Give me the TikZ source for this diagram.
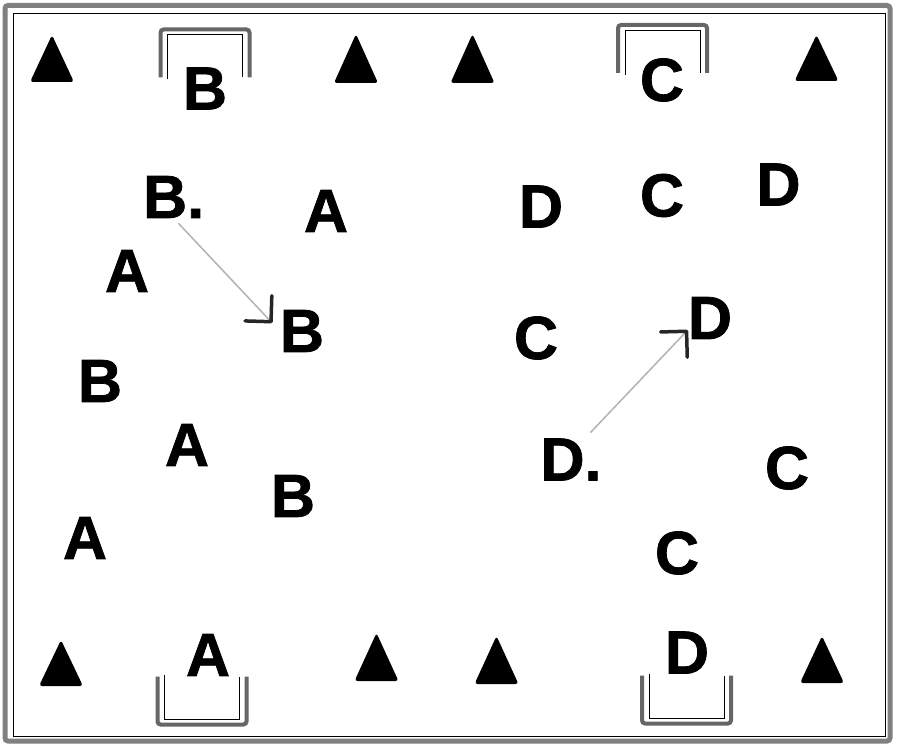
\documentclass[tikz,border=0pt]{standalone}
\usepackage{fontspec}
\setmainfont{Liberation Sans}
\newfontfamily\playerfont{Liberation Sans Bold}[FakeBold=1.2]
\usetikzlibrary{arrows.meta}

\begin{document}
\begin{tikzpicture}[x=1pt,y=-1pt,
  player/.style={font=\fontsize{61}{61}\selectfont\playerfont,inner sep=0pt},
  cone/.style={fill=black,rounded corners=3pt},
  goalline/.style={draw=black!60,line width=4pt,rounded corners=3pt},
  passline/.style={draw=black!30,line width=1.5pt,
    -{Straight Barb[angle=90:26pt,line width=3.5pt,black!85,round]}}]

\useasboundingbox (0,0) rectangle (900,752);

\draw[black!50,line width=5pt,rounded corners=3pt] (5,5.5) rectangle (890,741);
\draw[thin] (13,13) rectangle (885,736);

\foreach \gx/\gy/\gd in {205/29.5/1,662.5/25/1,202/724.5/-1,686.5/723.5/-1}{
  \draw[goalline] (\gx-44.5,\gy+\gd*48) -- (\gx-44.5,\gy) -- (\gx+44.5,\gy) -- (\gx+44.5,\gy+\gd*48);
  \draw[thin] (\gx-37.5,\gy+\gd*50) -- (\gx-37.5,\gy+\gd*5) -- (\gx+37.5,\gy+\gd*5) -- (\gx+37.5,\gy+\gd*48);
}

\foreach \tx/\ty/\tb in {52/35/82,356/34/83,472.5/34/83,816.5/35/81,
                         61/640/686,376.5/633/681,496.5/636/684,822/636/683}
  \fill[cone] (\tx-22,\tb) -- (\tx,\ty) -- (\tx+22,\tb) -- cycle;

\node[player] (a1) at (326,211) {A};
\node[player] (a2) at (127,271) {A};
\node[player] (a3) at (187,445) {A};
\node[player] (a4) at (85,538) {A};
\node[player] (a5) at (208,655) {A};

\node[player] (b1) at (205,88.5) {B};
\node[player] (bdot) at (173.6,197) {B.};
\node[player] (b2) at (302,331) {B};
\node[player] (b3) at (100,381) {B};
\node[player] (b4) at (293,496) {B};

\node[player] (c1) at (662,80) {C};
\node[player] (c2) at (662,195.5) {C};
\node[player] (c3) at (536,338) {C};
\node[player] (c4) at (787,468) {C};
\node[player] (c5) at (677,553) {C};

\node[player] (d1) at (541,206.5) {D};
\node[player] (d2) at (778.5,184.5) {D};
\node[player] (d3) at (710,318) {D};
\node[player] (ddot) at (571,459.5) {D.};
\node[player] (d4) at (687,652.5) {D};

\draw[passline,shorten <=7pt,shorten >=11pt] (bdot.south) -- (b2.west);
\draw[passline,shorten <=8pt] ([xshift=14pt]ddot.north) -- ([yshift=-12pt]d3.west);
\end{tikzpicture}
\end{document}
